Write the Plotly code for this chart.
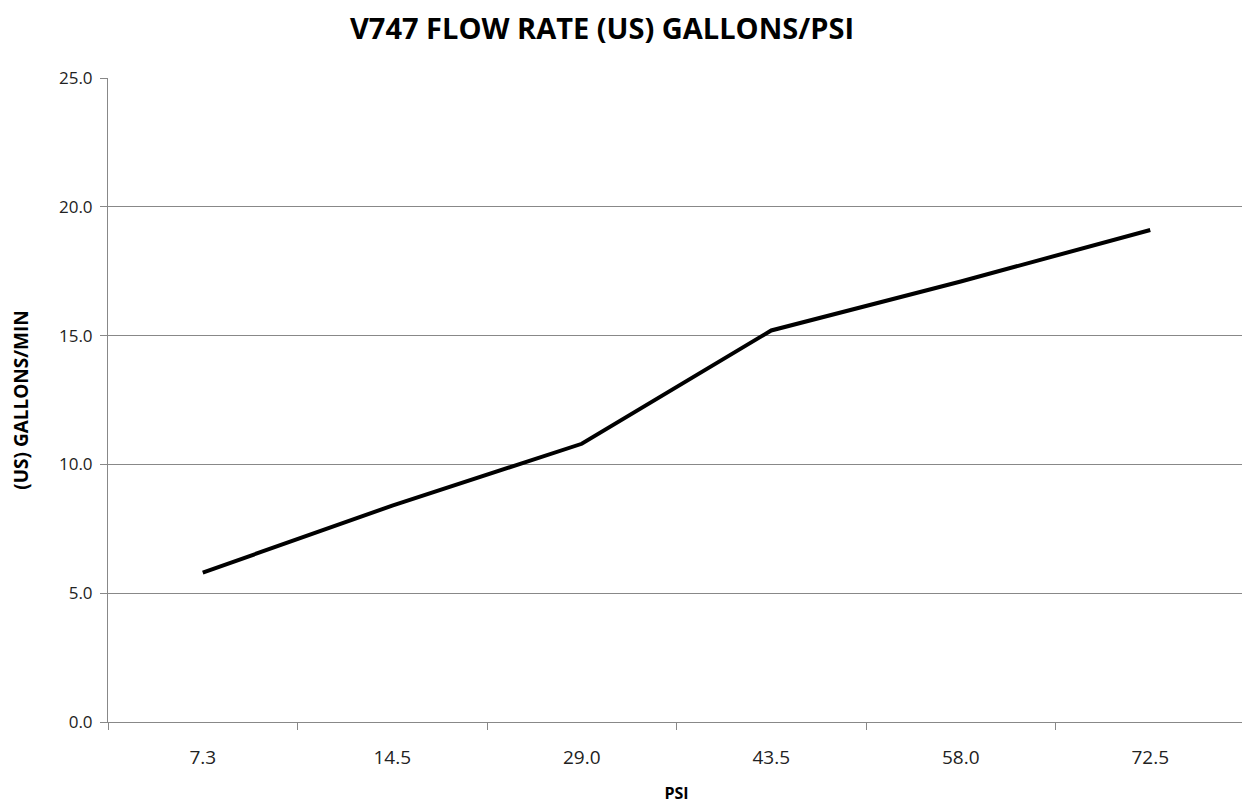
import plotly.graph_objects as go

psi_labels = ["7.3", "14.5", "29.0", "43.5", "58.0", "72.5"]
flow_gpm = [5.8, 8.4, 10.8, 15.2, 17.1, 19.1]

# the page body adds an 8px offset; margins are set so the plot lands where the reference has it
fig = go.Figure()
fig.add_trace(go.Scatter(
    x=psi_labels, y=flow_gpm, mode="lines",
    line=dict(color="black", width=4),
    showlegend=False,
))

fig.update_layout(
    width=1250, height=805,
    margin=dict(l=100, r=13, t=70, b=91, autoexpand=False),
    paper_bgcolor="white", plot_bgcolor="white",
    title=dict(
        text="<b>V747 FLOW RATE (US) GALLONS/PSI</b>",
        x=594 / 1250, xanchor="center", xref="container",
        y=1 - 21 / 805, yanchor="middle", yref="container",
        font=dict(family="Open Sans", size=29, color="black"),
    ),
)

fig.update_xaxes(
    type="category", range=[-0.5, 5.5], automargin=False,
    showline=True, linecolor="#888888", linewidth=1,
    ticks="outside", tickson="boundaries", ticklen=7, tickcolor="#888888",
    ticklabelstandoff=18,
    showgrid=False,
    tickfont=dict(family="Open Sans", size=19, color="#222222"),
    title=dict(text="<b>PSI</b>", font=dict(family="Open Sans", size=16, color="black"), standoff=19),
)
fig.update_yaxes(
    range=[0, 25], dtick=5, tickformat=".1f", automargin=False,
    showline=True, linecolor="#888888", linewidth=1,
    ticks="outside", ticklen=7, tickcolor="#888888",
    ticklabelstandoff=4,
    showgrid=True, gridcolor="#888888", gridwidth=1,
    zeroline=False,
    tickfont=dict(family="Open Sans", size=17, color="#222222"),
    title=dict(text="<b>(US) GALLONS/MIN</b>", font=dict(family="Open Sans", size=19, color="black"), standoff=31),
)

fig.write_html("out.html")
